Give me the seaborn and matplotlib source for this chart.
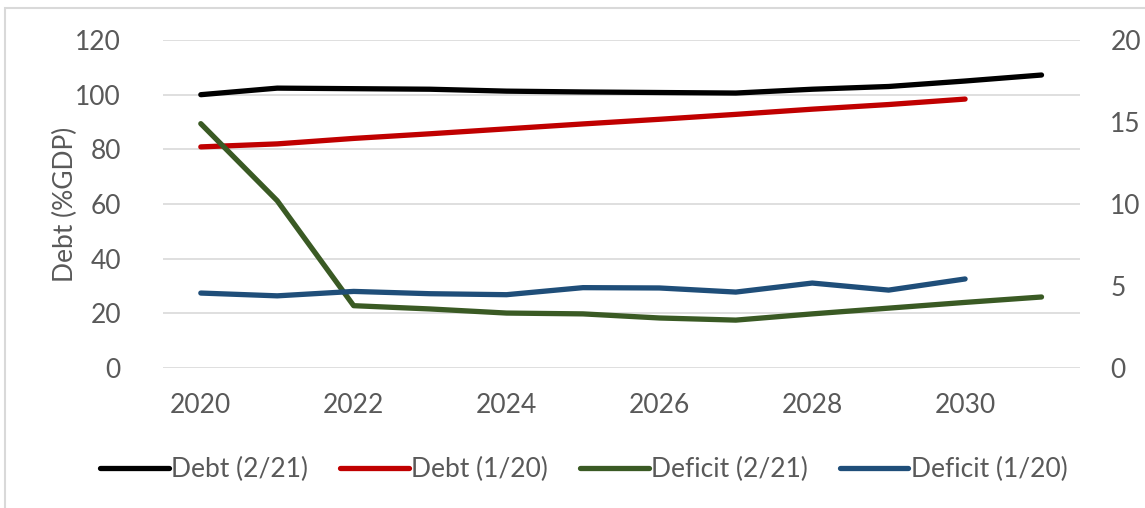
import numpy as np
import pandas as pd
import seaborn as sns
import matplotlib.pyplot as plt
from matplotlib.patches import Rectangle

# values
years_long = list(range(2020, 2032))
years_short = list(range(2020, 2031))
debt_feb21 = [100.0, 102.4, 102.2, 102.0, 101.3, 101.0, 100.8, 100.6, 102.0, 103.0, 105.0, 107.2]
debt_jan20 = [80.9, 82.0, 84.0, 85.7, 87.5, 89.3, 91.0, 92.8, 94.7, 96.4, 98.4]
deficit_feb21 = [14.9, 10.2, 3.8, 3.6, 3.35, 3.3, 3.05, 2.92, 3.3, 3.65, 4.0, 4.33]
deficit_jan20 = [4.57, 4.4, 4.67, 4.53, 4.47, 4.9, 4.88, 4.63, 5.18, 4.75, 5.43]

left_ticks = [0, 20, 40, 60, 80, 100, 120]
right_ticks = [0, 5, 10, 15, 20]
x_ticks = [2020, 2022, 2024, 2026, 2028, 2030]

sns.set_theme(style="white")
plt.rcParams['font.family'] = ['Lato', 'DejaVu Sans']
txt = '#595959'
fs = 19

fig = plt.figure(figsize=(11.45, 5.08), dpi=100)
ax = fig.add_axes([0.142, 0.2756, 0.801, 0.6456])
ax2 = ax.twinx()

lw = 3.8
sns.lineplot(x=years_long, y=debt_feb21, ax=ax, color='black', lw=lw,
             solid_capstyle='round', label='Debt (2/21)', legend=False)
sns.lineplot(x=years_short, y=debt_jan20, ax=ax, color='#C00000', lw=lw,
             solid_capstyle='round', label='Debt (1/20)', legend=False)
sns.lineplot(x=years_long, y=deficit_feb21, ax=ax2, color='#3A5A24', lw=lw,
             solid_capstyle='round', label='Deficit (2/21)', legend=False)
sns.lineplot(x=years_short, y=deficit_jan20, ax=ax2, color='#1F4E79', lw=lw,
             solid_capstyle='round', label='Deficit (1/20)', legend=False)

ax.set_xlim(2019.5, 2031.5)
ax.set_ylim(0, 120)
ax2.set_ylim(0, 20)
ax.set_xticks(x_ticks)
ax.set_yticks(left_ticks)
ax2.set_yticks(right_ticks)
ax.yaxis.grid(True, color='#D9D9D9', lw=1.2)
ax.set_axisbelow(True)
for a in (ax, ax2):
    for s in a.spines.values():
        s.set_visible(False)
    a.tick_params(length=0, labelsize=fs, labelcolor=txt)
ax.tick_params(axis='y', pad=30)
ax.tick_params(axis='x', pad=18)
ax2.tick_params(axis='y', pad=22)
ax.set_ylabel('Debt (%GDP)', fontsize=fs, color=txt, labelpad=-2)
ax.set_xlabel('')

h1, l1 = ax.get_legend_handles_labels()
h2, l2 = ax2.get_legend_handles_labels()
fig.legend(h1 + h2, l1 + l2, loc='center', bbox_to_anchor=(0.51, 0.075), ncol=4,
           frameon=False, fontsize=fs, handlelength=2.6, handletextpad=0.1,
           columnspacing=1.2, labelcolor=txt)

fig.patches.append(Rectangle((5 / 1145, -0.1), 1.2, 1 - 8 / 508 + 0.1,
                             transform=fig.transFigure, fill=False,
                             edgecolor='#D9D9D9', lw=1.5))

fig.savefig('out.png', dpi=100)
